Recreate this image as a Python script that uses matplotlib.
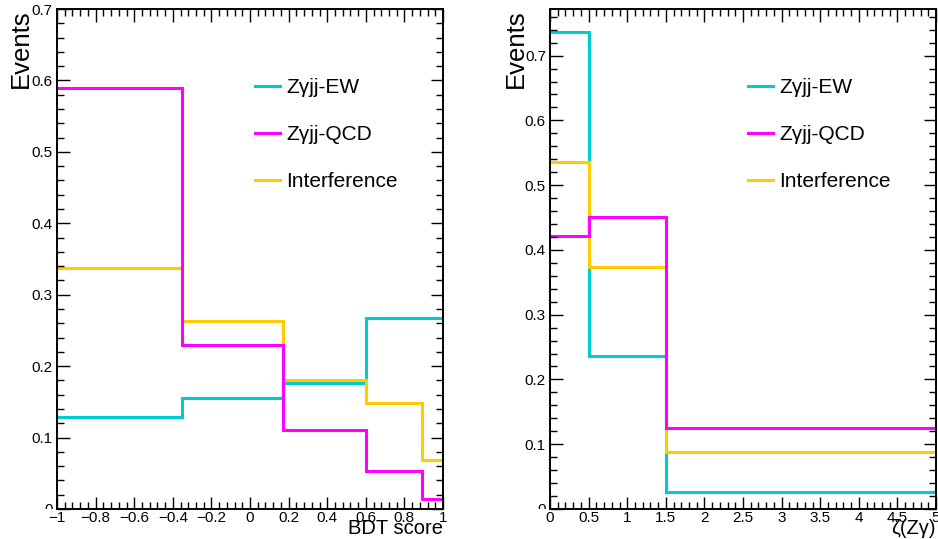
import numpy as np
import matplotlib
matplotlib.use("Agg")
import matplotlib.pyplot as plt
from matplotlib.ticker import MultipleLocator, FuncFormatter
from matplotlib.transforms import Bbox, TransformedBbox
from matplotlib.lines import Line2D

plt.rcParams["font.family"] = ["Liberation Sans", "DejaVu Sans"]

# Histogram data
bdt_edges = [-1, -0.35, 0.17, 0.6, 0.89, 1]
bdt_ew = [0.129, 0.155, 0.177, 0.268, 0.267]
bdt_qcd = [0.589, 0.230, 0.111, 0.053, 0.014]
bdt_int = [0.337, 0.263, 0.180, 0.148, 0.068]

zeta_edges = [0, 0.5, 1.5, 5]
zeta_ew = [0.736, 0.236, 0.026]
zeta_qcd = [0.422, 0.451, 0.125]
zeta_int = [0.536, 0.373, 0.088]

labels = ["Z\u03b3jj-EW", "Z\u03b3jj-QCD", "Interference"]
colors = ["#00cccc", "#ff00ff", "#ffcc00"]


def fmt(v, pos):
    s = "%g" % round(v, 6)
    return s.replace("-", "\u2212")


def style_axis(ax, xmaj, xmin, ymaj, ymin):
    ax.xaxis.set_major_locator(MultipleLocator(xmaj))
    ax.xaxis.set_minor_locator(MultipleLocator(xmin))
    ax.yaxis.set_major_locator(MultipleLocator(ymaj))
    ax.yaxis.set_minor_locator(MultipleLocator(ymin))
    ax.xaxis.set_major_formatter(FuncFormatter(fmt))
    ax.yaxis.set_major_formatter(FuncFormatter(fmt))
    ax.tick_params(which="both", direction="in", top=True, right=True, width=1.0)
    ax.tick_params(which="major", length=9)
    ax.tick_params(which="minor", length=4.7)
    ax.tick_params(axis="x", which="major", labelsize=11, pad=1.5)
    ax.tick_params(axis="y", which="major", labelsize=11, pad=3)
    for sp in ax.spines.values():
        sp.set_linewidth(1.4)


def draw_panel(ax, edges, ew, qcd, inter, xlabel, ymax):
    ax.stairs(ew, edges, color=colors[0], lw=2.2, baseline=None)
    ax.stairs(inter, edges, color=colors[2], lw=2.2, baseline=None)
    ax.stairs(qcd, edges, color=colors[1], lw=2.2, baseline=None)
    ax.set_xlim(edges[0], edges[-1])
    ax.set_ylim(0, ymax)
    handles = [Line2D([], [], color=c, lw=2.2) for c in colors]
    ax.legend(handles, labels, loc="upper left", bbox_to_anchor=(0.513, 0.861),
              frameon=False, fontsize=15, handlelength=1.2, handletextpad=0.3,
              labelspacing=1.34, borderpad=0, borderaxespad=0)
    ax.set_xlabel(xlabel, fontsize=14.5, loc="right", va="baseline")
    ax.xaxis.set_label_coords(1.0, -0.05)
    ax.set_ylabel("Events", fontsize=18.5, loc="top")


fig = plt.figure(figsize=(9.38, 5.39), dpi=100)
ax1 = fig.add_axes([0.0608, 0.0557, 0.4115, 0.9276])
ax2 = fig.add_axes([0.5864, 0.0557, 0.4115, 0.9276])

draw_panel(ax1, bdt_edges, bdt_ew, bdt_qcd, bdt_int, "BDT score", 0.7)
style_axis(ax1, 0.2, 0.04, 0.1, 0.02)
ax1.yaxis.set_label_coords(-0.062, 1.0)

draw_panel(ax2, zeta_edges, zeta_ew, zeta_qcd, zeta_int, "\u03b6(Z\u03b3)", 0.772)
style_axis(ax2, 0.5, 0.1, 0.1, 0.02)
ax2.yaxis.set_label_coords(-0.058, 1.0)

# the "0" label on the y axis is half hidden below the frame
fig.canvas.draw()
for ax in (ax1, ax2):
    for tick in ax.yaxis.get_major_ticks():
        if abs(tick.get_loc()) < 1e-9:
            tick.label1.set_clip_on(True)
            tick.label1.set_clip_box(
                TransformedBbox(Bbox.from_extents(-0.3, 0, 0, 1.1), ax.transAxes))

fig.savefig("out.png", dpi=100)
